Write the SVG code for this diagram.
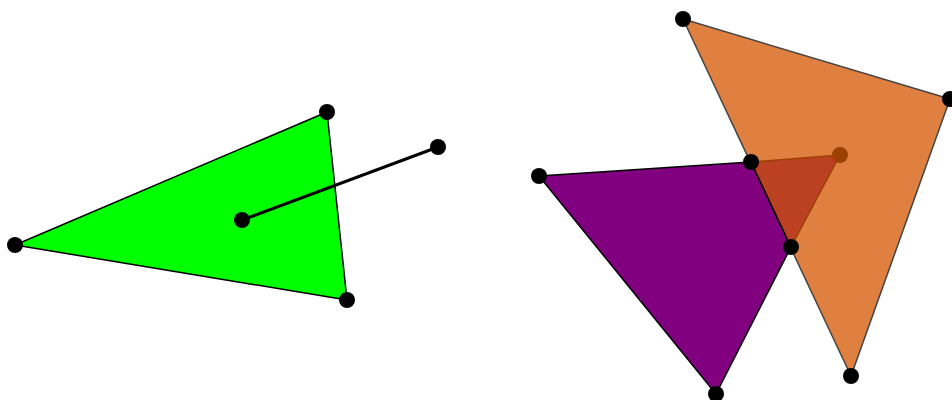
<svg xmlns="http://www.w3.org/2000/svg" width="952" height="400" viewBox="0 0 952 400">
<style>
.dot{fill:#000}
.green{fill:#00ff00;stroke:#000;stroke-width:1.5;stroke-linejoin:round}
.orange{fill:#df7f40;stroke:#444;stroke-width:1.5;stroke-linejoin:round}
.purple{fill:#800080;stroke:#000;stroke-width:1.5;stroke-linejoin:round}
.inter{fill:#bc4022;stroke:none}
.interedge{fill:none;stroke:#9c4100;stroke-width:1.5;stroke-linejoin:round}
</style>
<rect width="952" height="400" fill="#fff"/>
<g id="green-triangle">
<polygon class="green" points="15,245 327,112 347,300"/>
<circle class="dot" cx="15" cy="245" r="8"/>
<circle class="dot" cx="327" cy="112" r="8"/>
<circle class="dot" cx="347" cy="300" r="8"/>
</g>
<g id="connectors">
<line x1="242" y1="220" x2="438" y2="147" stroke="#000" stroke-width="3"/>
</g>
<g id="centroid">
<circle class="dot" cx="242" cy="220" r="8"/>
</g>
<g id="target">
<circle class="dot" cx="438" cy="147" r="8"/>
</g>
<g id="orange-triangle">
<polygon class="orange" points="683,19 950,99 851,376"/>
</g>
<g id="purple-triangle">
<polygon class="purple" points="539,176 751,162 791,247 716,394"/>
</g>
<g id="intersection">
<polygon class="inter" points="751,162 840,155 791,247"/>
<polyline class="interedge" points="751,162 840,155 791,247"/>
<line x1="751" y1="162" x2="791" y2="247" stroke="#000" stroke-width="1.5"/>
<circle cx="840" cy="155" r="8" fill="#9c4100"/>
</g>
<g id="vertices">
<circle class="dot" cx="683" cy="19" r="8"/>
<circle class="dot" cx="950" cy="99" r="8"/>
<circle class="dot" cx="851" cy="376" r="8"/>
<circle class="dot" cx="539" cy="176" r="8"/>
<circle class="dot" cx="751" cy="162" r="8"/>
<circle class="dot" cx="791" cy="247" r="8"/>
<circle class="dot" cx="716" cy="394" r="8"/>
</g>
</svg>
